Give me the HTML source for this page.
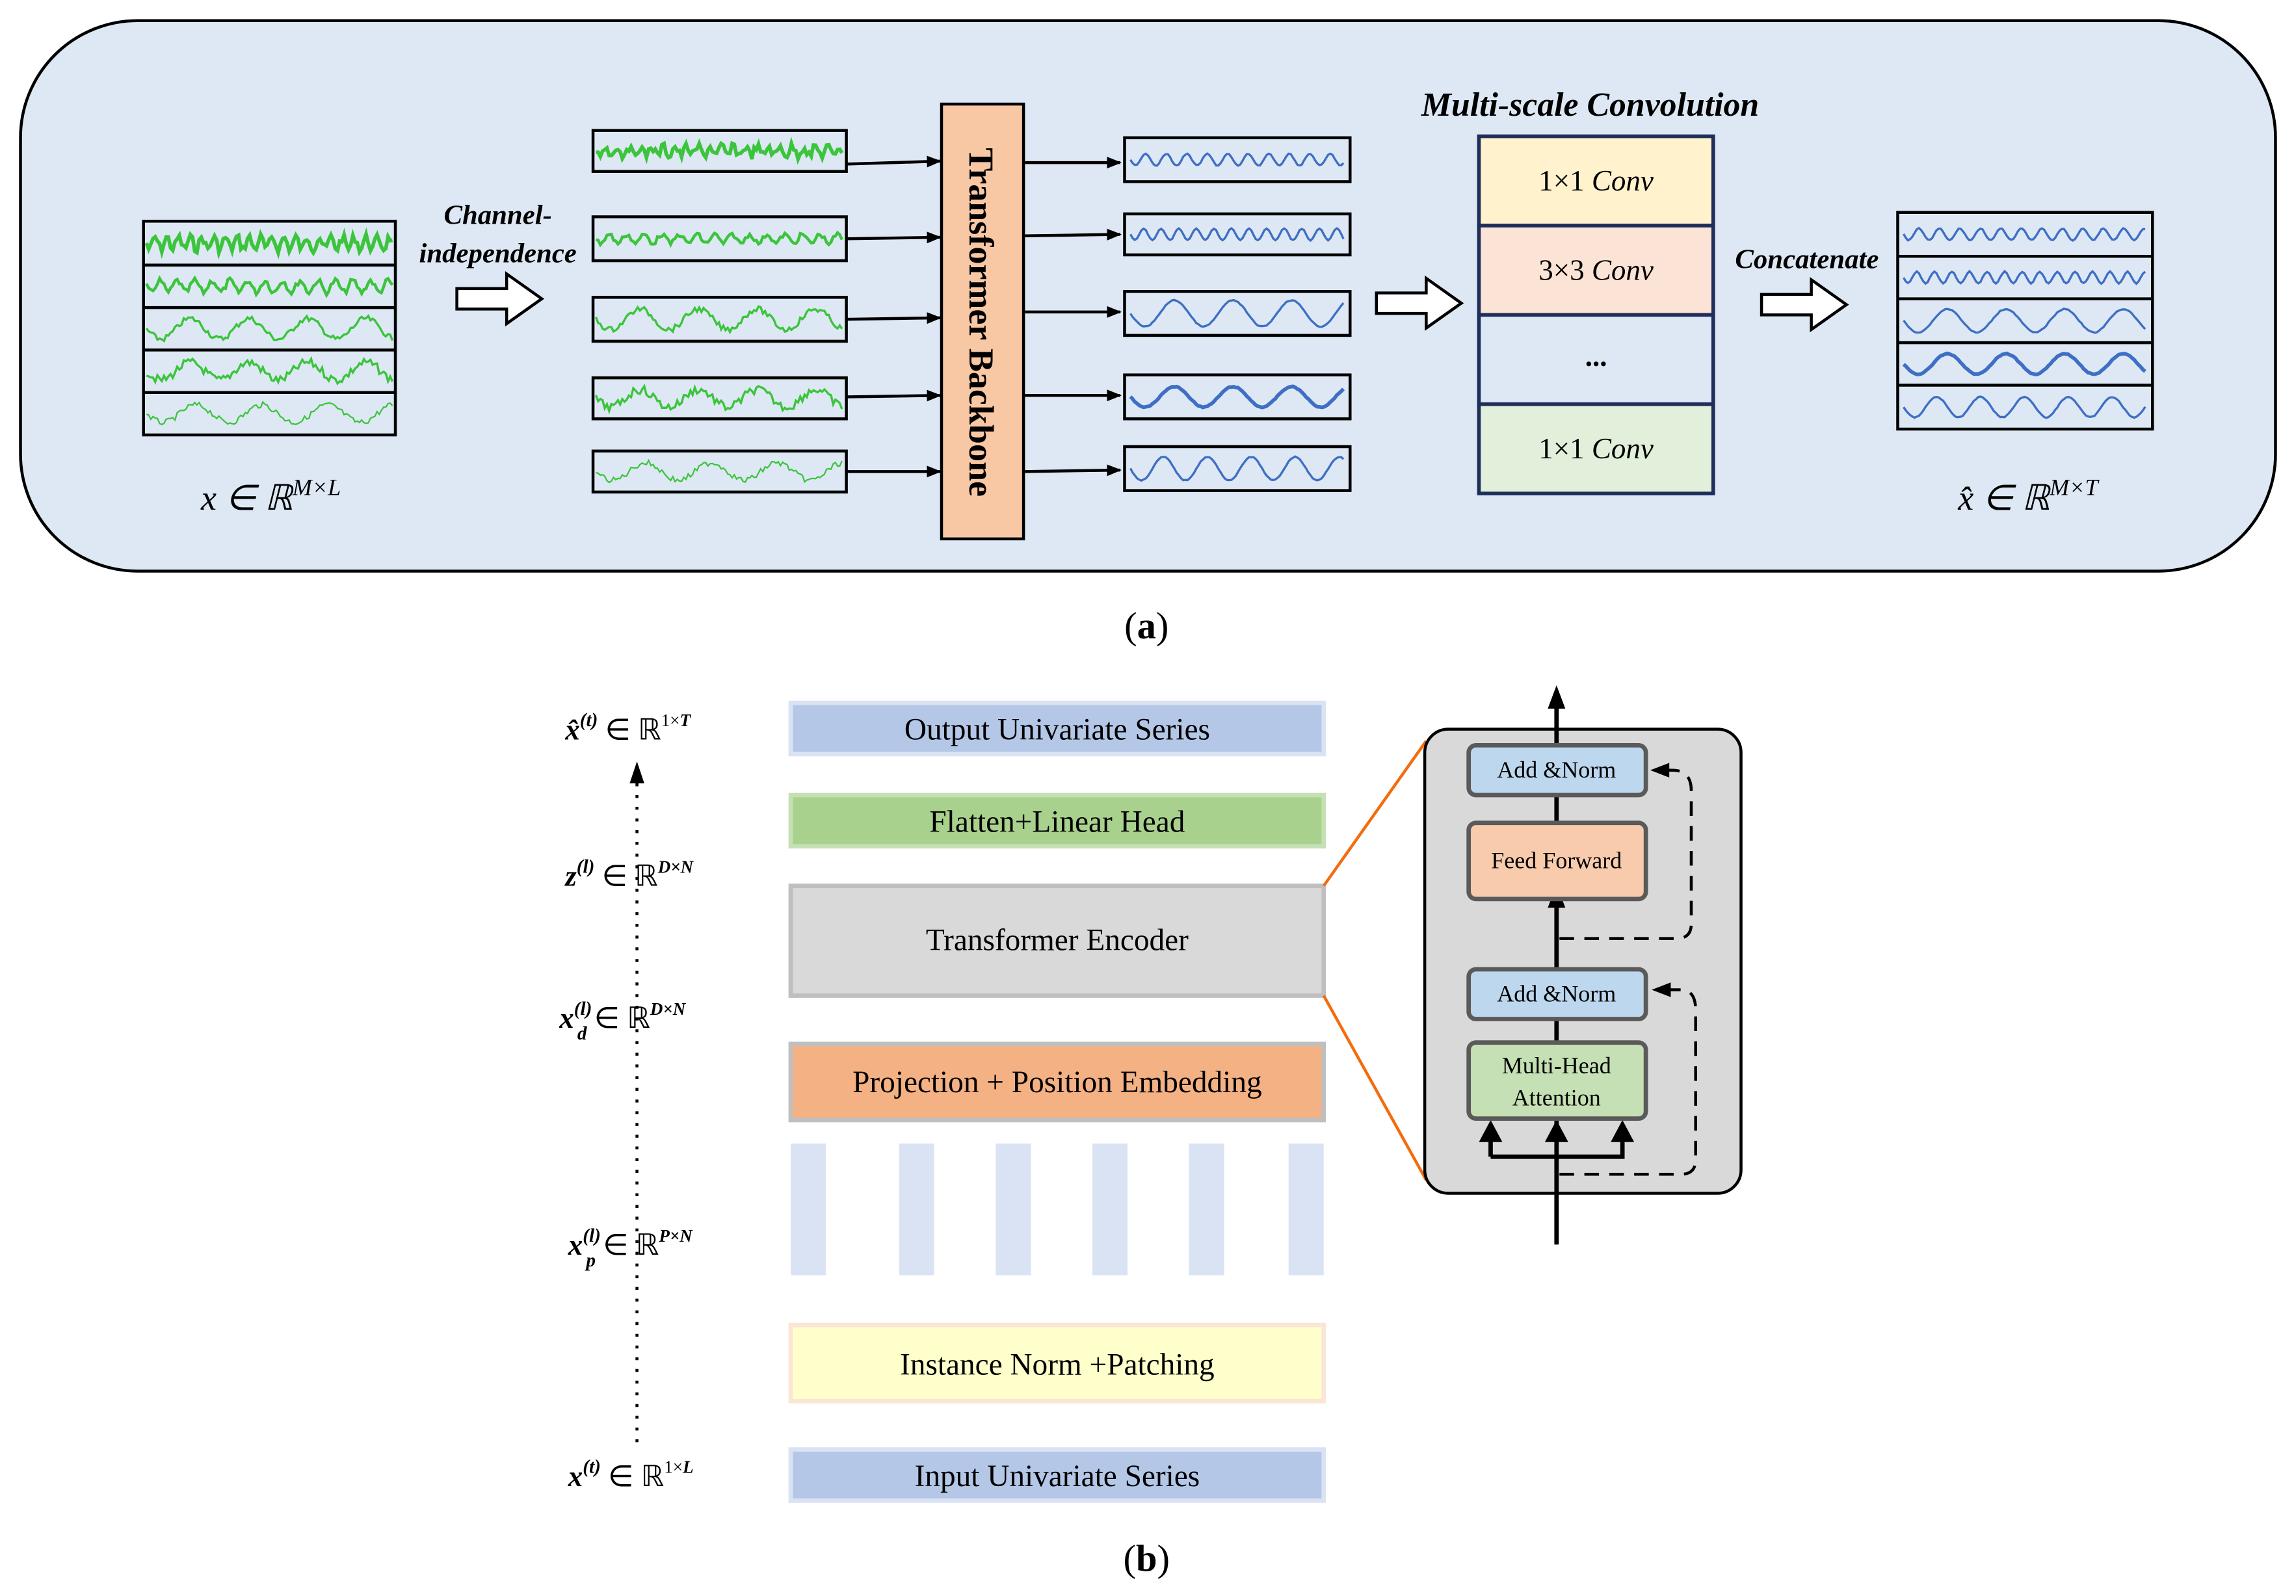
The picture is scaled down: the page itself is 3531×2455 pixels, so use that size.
<!DOCTYPE html>
<html><head><meta charset="utf-8"><style>
html,body{margin:0;padding:0;background:#fff;}
svg{display:block;}
text{font-family:"Liberation Serif",serif;}
</style></head><body>
<svg id="s" width="3531" height="2455" viewBox="0 0 1568 1090" xmlns="http://www.w3.org/2000/svg">
<defs>
<marker id="ah" markerWidth="10" markerHeight="10" refX="9" refY="5" orient="auto" markerUnits="userSpaceOnUse"><path d="M0,1 L10,5 L0,9 Z" fill="#000"/></marker>
<marker id="ah2" markerWidth="12" markerHeight="12" refX="10" refY="6" orient="auto" markerUnits="userSpaceOnUse"><path d="M0,0 L12,6 L0,12 Z" fill="#000"/></marker>
</defs>
<!-- panel a -->
<rect x="14" y="14" width="1540" height="376" rx="80" fill="#dde8f4" stroke="#000" stroke-width="2"/>
<g id="waves"></g>
<!-- left stack -->
<g fill="none" stroke="#000" stroke-width="2">
<rect x="98" y="151" width="172" height="146"/>
<line x1="98" y1="181" x2="270" y2="181"/><line x1="98" y1="210" x2="270" y2="210"/><line x1="98" y1="239" x2="270" y2="239"/><line x1="98" y1="268" x2="270" y2="268"/>
<rect x="405" y="89" width="173" height="28"/><rect x="405" y="148" width="173" height="30"/><rect x="405" y="203" width="173" height="30"/><rect x="405" y="258" width="173" height="28"/><rect x="405" y="308" width="173" height="28"/>
<rect x="768" y="94" width="154" height="30"/><rect x="768" y="146" width="154" height="28"/><rect x="768" y="199" width="154" height="30"/><rect x="768" y="256" width="154" height="30"/><rect x="768" y="305" width="154" height="30"/>
<rect x="1296" y="145" width="174" height="148"/>
<line x1="1296" y1="175" x2="1470" y2="175"/><line x1="1296" y1="204" x2="1470" y2="204"/><line x1="1296" y1="234" x2="1470" y2="234"/><line x1="1296" y1="263" x2="1470" y2="263"/>
</g>
<text x="185" y="348" font-size="24" font-style="italic" text-anchor="middle">x ∈ ℝ<tspan font-size="16" dy="-10">M×L</tspan></text>
<text x="340" y="153" font-size="19" font-weight="bold" font-style="italic" text-anchor="middle">Channel-</text>
<text x="340" y="179" font-size="19" font-weight="bold" font-style="italic" text-anchor="middle">independence</text>
<path d="M312,197 h34 v-10 l24,17 l-24,17 v-10 h-34 z" fill="#fff" stroke="#000" stroke-width="2"/>
<path d="M940,200 h34 v-10 l24,17 l-24,17 v-10 h-34 z" fill="#fff" stroke="#000" stroke-width="2"/>
<path d="M1203,201 h34 v-10 l24,17 l-24,17 v-10 h-34 z" fill="#fff" stroke="#000" stroke-width="2"/>
<g stroke="#000" stroke-width="2" marker-end="url(#ah)">
<line x1="578" y1="112" x2="642" y2="110"/><line x1="578" y1="163" x2="642" y2="162"/><line x1="578" y1="218" x2="642" y2="217"/><line x1="578" y1="271" x2="642" y2="270"/><line x1="578" y1="322" x2="642" y2="322"/>
<line x1="700" y1="111" x2="765" y2="111"/><line x1="700" y1="161" x2="765" y2="160"/><line x1="700" y1="213" x2="765" y2="213"/><line x1="700" y1="270" x2="765" y2="270"/><line x1="700" y1="322" x2="765" y2="321"/>
</g>
<rect x="643" y="71" width="56" height="297" fill="#f8c8a5" stroke="#000" stroke-width="2"/>
<text transform="translate(662,220) rotate(90)" font-size="24" font-weight="bold" text-anchor="middle">Transformer Backbone</text>
<text x="1086" y="79" font-size="23" font-weight="bold" font-style="italic" text-anchor="middle">Multi-scale Convolution</text>
<g stroke="#1f2d5a" stroke-width="2.5">
<rect x="1010" y="93" width="160" height="61" fill="#fff2cc"/>
<rect x="1010" y="154" width="160" height="61" fill="#fbe3d5"/>
<rect x="1010" y="215" width="160" height="61" fill="#dde8f4"/>
<rect x="1010" y="276" width="160" height="61" fill="#e2efda"/>
</g>
<g font-size="20" text-anchor="middle">
<text x="1090" y="130">1×1 <tspan font-style="italic">Conv</tspan></text>
<text x="1090" y="191">3×3 <tspan font-style="italic">Conv</tspan></text>
<text x="1090" y="250" font-weight="bold">...</text>
<text x="1090" y="313">1×1 <tspan font-style="italic">Conv</tspan></text>
</g>
<text x="1234" y="183" font-size="19" font-weight="bold" font-style="italic" text-anchor="middle">Concatenate</text>
<text x="1385" y="348" font-size="24" font-style="italic" text-anchor="middle">x̂ ∈ ℝ<tspan font-size="16" dy="-10">M×T</tspan></text>
<text x="783" y="436" font-size="26" text-anchor="middle">(<tspan font-weight="bold">a</tspan>)</text>
<!-- panel b -->
<g font-size="21" text-anchor="middle">
<rect x="540" y="480" width="364" height="35" fill="#b4c7e7" stroke="#dae3f3" stroke-width="3"/>
<text x="722" y="505">Output Univariate Series</text>
<rect x="540" y="543" width="364" height="35" fill="#a9d18e" stroke="#c5e0b4" stroke-width="3"/>
<text x="722" y="568">Flatten+Linear Head</text>
<rect x="540" y="605" width="364" height="75" fill="#d9d9d9" stroke="#bfbfbf" stroke-width="3"/>
<text x="722" y="649">Transformer Encoder</text>
<rect x="540" y="713" width="364" height="52" fill="#f4b183" stroke="#bfbfbf" stroke-width="3"/>
<text x="722" y="746">Projection + Position Embedding</text>
<g fill="#dae3f3"><rect x="540" y="781" width="24" height="90"/><rect x="614" y="781" width="24" height="90"/><rect x="680" y="781" width="24" height="90"/><rect x="746" y="781" width="24" height="90"/><rect x="812" y="781" width="24" height="90"/><rect x="880" y="781" width="24" height="90"/></g>
<rect x="540" y="905" width="364" height="52" fill="#ffffcc" stroke="#fbe5d6" stroke-width="3"/>
<text x="722" y="939">Instance Norm +Patching</text>
<rect x="540" y="990" width="364" height="35" fill="#b4c7e7" stroke="#dae3f3" stroke-width="3"/>
<text x="722" y="1015">Input Univariate Series</text>
</g>
<line x1="435" y1="985" x2="435" y2="535" stroke="#000" stroke-width="2" stroke-dasharray="2,6"/>
<path d="M430,535 L435,520 L440,535 Z" fill="#000"/>
<g font-size="20" font-style="italic" font-weight="bold">
<text x="386" y="505">x̂<tspan font-size="13" dy="-9">(t)</tspan><tspan font-weight="normal" font-style="normal" dy="9"> ∈ ℝ</tspan><tspan font-size="12" dy="-9" font-weight="normal" font-style="normal">1×</tspan><tspan font-size="12">T</tspan></text>
<text x="386" y="605">z<tspan font-size="13" dy="-9">(l)</tspan><tspan font-weight="normal" font-style="normal" dy="9"> ∈ ℝ</tspan><tspan font-size="12" dy="-9">D×N</tspan></text>
<text x="382" y="702">x<tspan font-size="13" dy="-9">(l)</tspan><tspan font-size="13" dy="17" dx="-10">d</tspan><tspan font-weight="normal" font-style="normal" dy="-8"> ∈ ℝ</tspan><tspan font-size="12" dy="-9">D×N</tspan></text>
<text x="388" y="857">x<tspan font-size="13" dy="-9">(l)</tspan><tspan font-size="13" dy="17" dx="-10">p</tspan><tspan font-weight="normal" font-style="normal" dy="-8"> ∈ ℝ</tspan><tspan font-size="12" dy="-9">P×N</tspan></text>
<text x="388" y="1015">x<tspan font-size="13" dy="-9">(t)</tspan><tspan font-weight="normal" font-style="normal" dy="9"> ∈ ℝ</tspan><tspan font-size="12" dy="-9" font-weight="normal" font-style="normal">1×</tspan><tspan font-size="12">L</tspan></text>
</g>
<line x1="904" y1="605" x2="974" y2="506" stroke="#f36c10" stroke-width="2"/>
<line x1="904" y1="680" x2="974" y2="806" stroke="#f36c10" stroke-width="2"/>
<rect x="973" y="498" width="216" height="317" rx="16" fill="#d9d9d9" stroke="#000" stroke-width="2"/>
<line x1="1063" y1="850" x2="1063" y2="476" stroke="#000" stroke-width="3"/>
<path d="M1057,484 L1063,468 L1069,484 Z" fill="#000"/>
<path d="M1057,620 L1063,604 L1069,620 Z" fill="#000"/>
<path d="M1018,790 V768 M1018,790 H1108 V768" fill="none" stroke="#000" stroke-width="3"/>
<path d="M1010,780 L1018,765 L1026,780 Z M1055,780 L1063,765 L1071,780 Z M1100,780 L1108,765 L1116,780 Z" fill="#000"/>
<g fill="none" stroke="#000" stroke-width="2" stroke-dasharray="10,7">
<path d="M1065,641 H1145 Q1155,641 1155,631 V540 Q1155,526 1142,526 H1138"/>
<path d="M1065,802 H1148 Q1158,802 1158,792 V690 Q1158,676 1148,676 H1140"/>
</g>
<path d="M1127,526 L1140,521 L1140,531 Z M1128,676 L1141,671 L1141,681 Z" fill="#000"/>
<g stroke="#5a5a5a" stroke-width="3">
<rect x="1003" y="509" width="121" height="34" rx="5" fill="#bdd7ee"/>
<rect x="1003" y="562" width="121" height="52" rx="5" fill="#f8cbad"/>
<rect x="1003" y="662" width="121" height="34" rx="5" fill="#bdd7ee"/>
<rect x="1003" y="712" width="121" height="52" rx="5" fill="#c5e0b4"/>
</g>
<g font-size="16" text-anchor="middle">
<text x="1063" y="531">Add &amp;Norm</text>
<text x="1063" y="593">Feed Forward</text>
<text x="1063" y="684">Add &amp;Norm</text>
<text x="1063" y="733">Multi-Head</text>
<text x="1063" y="755">Attention</text>
</g>
<text x="783" y="1073" font-size="26" text-anchor="middle">(<tspan font-weight="bold">b</tspan>)</text>
</svg>
<script>
(function(){
var g=document.getElementById('waves');var seed=7;
function r(){seed=(seed*9301+49297)%233280;return seed/233280-0.5;}
function wave(x,y,w,h,col,per,amp,noise,sw){
 var d='',cy=y+h/2;
 for(var i=0;i<=w;i+=1.5){var v=cy+amp*Math.sin(i/per*2*Math.PI)+noise*r()*2;v=Math.max(y+2,Math.min(y+h-2,v));d+=(i?'L':'M')+(x+i).toFixed(1)+','+v.toFixed(1);}
 var p=document.createElementNS('http://www.w3.org/2000/svg','path');
 p.setAttribute('d',d);p.setAttribute('fill','none');p.setAttribute('stroke',col);p.setAttribute('stroke-width',sw);g.appendChild(p);}
var G='#3cc43c',B='#3e6fc4';
var L=[[151,30,8,4,3,2.5],[181,29,12,4,2,2],[210,29,40,7,2,1.5],[239,29,40,6,3,1.5],[268,29,45,6,2,1]];
L.forEach(function(a){wave(100,a[0],168,a[1],G,a[2],a[3],a[4],a[5]);});
var M=[[89,28,8,3,3,2.5],[148,30,12,3,1.5,2],[203,30,40,7,2,1.5],[258,28,40,6,3,1.5],[308,28,45,6,2,1]];
M.forEach(function(a){wave(407,a[0],169,a[1],G,a[2],a[3],a[4],a[5]);});
var O=[[94,30,14,4],[146,28,12,4],[199,30,40,9],[256,30,40,7],[305,30,30,8]];
O.forEach(function(a,i){wave(772,a[0],146,a[1],B,a[2],a[3],0.3,i==3?2.5:1.5);});
var R=[[145,30,14,4],[175,29,12,4],[204,30,40,8],[234,29,40,7],[263,30,30,7]];
R.forEach(function(a,i){wave(1300,a[0],166,a[1],B,a[2],a[3],0.3,i==3?2.5:1.5);});
})();
</script>
</body></html>
